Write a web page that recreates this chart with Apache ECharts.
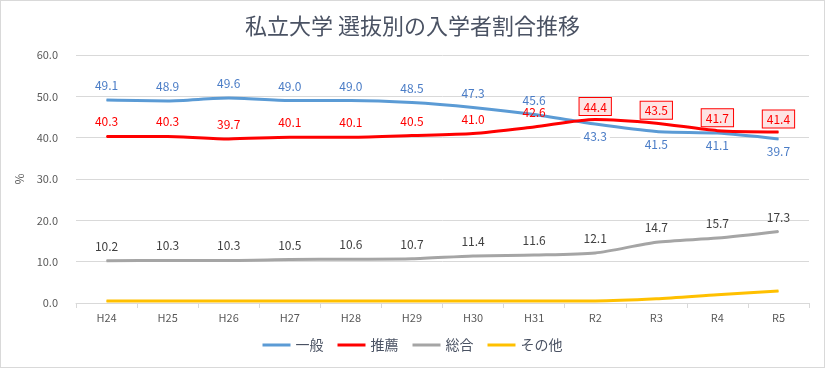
<!DOCTYPE html>
<html><head><meta charset="utf-8">
<script src="https://cdn.jsdelivr.net/npm/echarts@6/dist/echarts.min.js"></script>
<style>
html,body{margin:0;padding:0;background:#fff;}
#c{position:absolute;left:0;top:0;width:823px;height:366px;border:1px solid #d9d9d9;}
</style></head>
<body><div id="c"></div>
<script>
const categories = ['H24','H25','H26','H27','H28','H29','H30','H31','R2','R3','R4','R5'];
const ippan   = [49.1,48.9,49.6,49.0,49.0,48.5,47.3,45.6,43.3,41.5,41.1,39.7];
const suisen  = [40.3,40.3,39.7,40.1,40.1,40.5,41.0,42.6,44.4,43.5,41.7,41.4];
const sogo    = [10.2,10.3,10.3,10.5,10.6,10.7,11.4,11.6,12.1,14.7,15.7,17.3];
const sonota  = [0.5,0.5,0.5,0.5,0.5,0.5,0.5,0.5,0.5,1.0,2.0,2.9];
const yTicks  = [0,10,20,30,40,50,60];

const chart = echarts.init(document.getElementById('c'), null, {renderer:'canvas'});
const F = '"Noto Sans CJK JP", "Noto Sans", sans-serif';
const ippanData = ippan.map((v,i)=> i>=8 ? {value:v,label:{position:'bottom',distance:6,backgroundColor:'#fff',padding:[0,3]}} : v);
const suisenData = suisen.map((v,i)=> i>=8 ? {value:v,label:{backgroundColor:'#fde4e4',borderColor:'#ff0000',borderWidth:1,padding:[3,4,2,4],distance:4}} : v);
const lbl = (c)=>({show:true,position:'top',distance:8,color:c,fontSize:12,fontFamily:F,formatter:p=>Number(p.value).toFixed(1)});
const common = {type:'line',smooth:0.25,symbol:'circle',symbolSize:1,showSymbol:true,emphasis:{disabled:true}};
chart.setOption({
  animation:false,
  title:{text:'私立大学 選抜別の入学者割合推移',left:'center',top:9,textStyle:{fontFamily:F,fontSize:22,fontWeight:'normal',color:'#4a5263'}},
  grid:{left:75,right:15,top:54,bottom:64},
  legend:{bottom:10,left:'center',icon:'rect',itemWidth:28,itemHeight:3,itemGap:14,textStyle:{fontFamily:F,fontSize:14,color:'#4a5263'},
    data:['一般','推薦','総合','その他']},
  xAxis:{type:'category',data:categories,boundaryGap:true,
    axisLine:{lineStyle:{color:'#d9d9d9'}},axisTick:{show:true,alignWithLabel:false,length:5,lineStyle:{color:'#d9d9d9'}},
    axisLabel:{color:'#595959',fontFamily:F,fontSize:11,margin:9}},
  yAxis:{type:'value',min:yTicks[0],max:yTicks[yTicks.length-1],interval:10,name:'%',nameLocation:'middle',nameGap:47,nameRotate:90,
    nameTextStyle:{color:'#595959',fontFamily:F,fontSize:12},
    axisLabel:{color:'#595959',fontFamily:F,fontSize:11,formatter:v=>v.toFixed(1),margin:18},
    splitLine:{lineStyle:{color:'#d9d9d9'}},axisLine:{show:false},axisTick:{show:false}},
  series:[
    Object.assign({name:'一般',data:ippanData,lineStyle:{width:3,color:'#5b9bd5'},itemStyle:{color:'#5b9bd5'},label:lbl('#4a7cc6'),z:3},common),
    Object.assign({name:'推薦',data:suisenData,lineStyle:{width:3,color:'#ff0000'},itemStyle:{color:'#ff0000'},label:lbl('#ff0000'),z:4},common),
    Object.assign({name:'総合',data:sogo,lineStyle:{width:3,color:'#a5a5a5'},itemStyle:{color:'#a5a5a5'},label:lbl('#404040'),z:2},common),
    Object.assign({name:'その他',data:sonota,lineStyle:{width:3,color:'#ffc000'},itemStyle:{color:'#ffc000'},label:{show:false},z:2},common)
  ]
});
</script></body></html>
